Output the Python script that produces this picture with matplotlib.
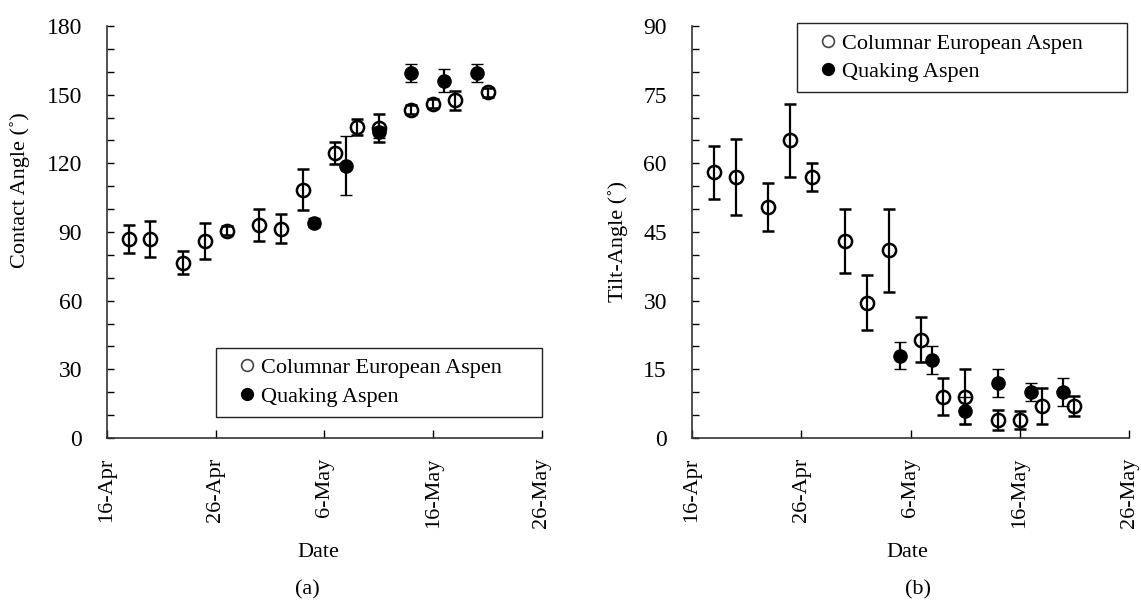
import matplotlib
matplotlib.use("Agg")
import matplotlib.pyplot as plt
from matplotlib.lines import Line2D
import pandas as pd

plt.rcParams['font.family'] = ['Liberation Serif', 'DejaVu Serif']

# ---------------- data ----------------
cea_dates = ["2014-04-18", "2014-04-20", "2014-04-23", "2014-04-25", "2014-04-27",
             "2014-04-30", "2014-05-02", "2014-05-04", "2014-05-07", "2014-05-09",
             "2014-05-11", "2014-05-14", "2014-05-16", "2014-05-18", "2014-05-21"]
qa_dates = ["2014-05-05", "2014-05-08", "2014-05-11", "2014-05-14", "2014-05-17", "2014-05-20"]

cea_contact = [87, 87, 76.5, 86, 90.5, 93, 91.5, 108.5, 124.5, 136, 135.5, 143.5, 146, 147.5, 151]
cea_contact_err = [6, 8, 5, 8, 2, 7, 6.5, 9, 5, 3.5, 6, 2, 2, 4, 2]
qa_contact = [94, 119, 133.5, 159.5, 156, 159.5]
qa_contact_err = [2, 13, 2.5, 4, 5, 4]

cea_tilt = [58, 57, 50.5, 65, 57, 43, 29.5, 41, 21.5, 9, 9, 4, 4, 7, 7]
cea_tilt_err = [5.7, 8.3, 5.2, 8, 3, 7, 6, 9, 5, 4, 6, 2.2, 2, 4, 2.2]
qa_tilt = [18, 17, 6, 12, 10, 10]
qa_tilt_err = [3, 3, 3, 3, 2, 3]

tick_dates = ["2014-04-16", "2014-04-26", "2014-05-06", "2014-05-16", "2014-05-26"]
tick_labels = ["16-Apr", "26-Apr", "6-May", "16-May", "26-May"]
series_names = ["Columnar European Aspen", "Quaking Aspen"]

cea_x = pd.to_datetime(cea_dates)
qa_x = pd.to_datetime(qa_dates)
ticks_x = pd.to_datetime(tick_dates)

W, H = 1141, 600
fig = plt.figure(figsize=(W / 100, H / 100), dpi=100)

def px_axes(x0, x1, y0, y1):
    return fig.add_axes([x0 / W, 1 - y1 / H, (x1 - x0) / W, (y1 - y0) / H])

axA = px_axes(107, 542, 26, 438)
axB = px_axes(692, 1129, 26, 438)

FS_LAB = 16
FS_YT = 17
FS_XT = 16
ebkw = dict(fmt='o', ms=9.5, capsize=4, elinewidth=1.6, capthick=1.6, ecolor='black')

def draw(ax, cv, ce, qv, qe, ymax, ystep, yminor, ylabel):
    ax.errorbar(cea_x, cv, yerr=ce, mfc='none', mec='black', mew=1.8, **ebkw)
    ax.errorbar(qa_x, qv, yerr=qe, mfc='black', mec='black', mew=1.0, **ebkw)
    ax.set_xlim(ticks_x[0], ticks_x[-1])
    ax.set_ylim(0, ymax)
    ax.set_xticks(ticks_x)
    ax.set_xticklabels(tick_labels, rotation=90, fontsize=FS_XT)
    ax.set_yticks(range(0, ymax + 1, ystep))
    ax.set_yticks(range(0, ymax + 1, yminor), minor=True)
    ax.tick_params(axis='y', which='both', direction='in', length=5, width=1.0,
                   labelsize=FS_YT, pad=18)
    ax.tick_params(axis='x', which='major', direction='in', length=6, width=1.0,
                   pad=14)
    for s in ['top', 'right']:
        ax.spines[s].set_visible(False)
    for s in ['left', 'bottom']:
        ax.spines[s].set_linewidth(1.2)
        ax.spines[s].set_color('#333333')
    ax.set_ylabel(ylabel, fontsize=FS_LAB)
    ax.set_xlabel("Date", fontsize=FS_LAB)

draw(axA, cea_contact, cea_contact_err, qa_contact, qa_contact_err, 180, 30, 10,
     "Contact Angle (˚)")
draw(axB, cea_tilt, cea_tilt_err, qa_tilt, qa_tilt_err, 90, 15, 5,
     "Tilt-Angle (˚)")

axA.yaxis.set_label_coords(-0.177, 0.602)
axB.yaxis.set_label_coords(-0.146, 0.476)
axA.xaxis.set_label_coords(0.485, -0.255)
axB.xaxis.set_label_coords(0.492, -0.255)

handles = [Line2D([], [], ls='none', marker='o', ms=8.5, mfc='none', mec='#444444', mew=1.2),
           Line2D([], [], ls='none', marker='o', ms=8.5, mfc='black', mec='black')]

legkw = dict(borderaxespad=0, fontsize=16, frameon=True, fancybox=False, mode='expand',
             handletextpad=-0.3, handlelength=1.9, borderpad=0.45, labelspacing=0.35)
legA = axA.legend(handles, series_names, loc='lower left',
                  bbox_to_anchor=(0.25, 0.052, 0.751, 0.3), **legkw)
legB = axB.legend(handles, series_names, loc='upper left',
                  bbox_to_anchor=(0.2396, 0.7, 0.755, 0.3065), **legkw)
for leg in (legA, legB):
    fr = leg.get_frame()
    fr.set_edgecolor('#222222')
    fr.set_linewidth(1.0)
    fr.set_alpha(1)

fig.text(307 / W, 1 - 590 / H, "(a)", ha='center', va='center', fontsize=FS_LAB)
fig.text(918 / W, 1 - 590 / H, "(b)", ha='center', va='center', fontsize=FS_LAB)

fig.savefig("out.png", dpi=100)
